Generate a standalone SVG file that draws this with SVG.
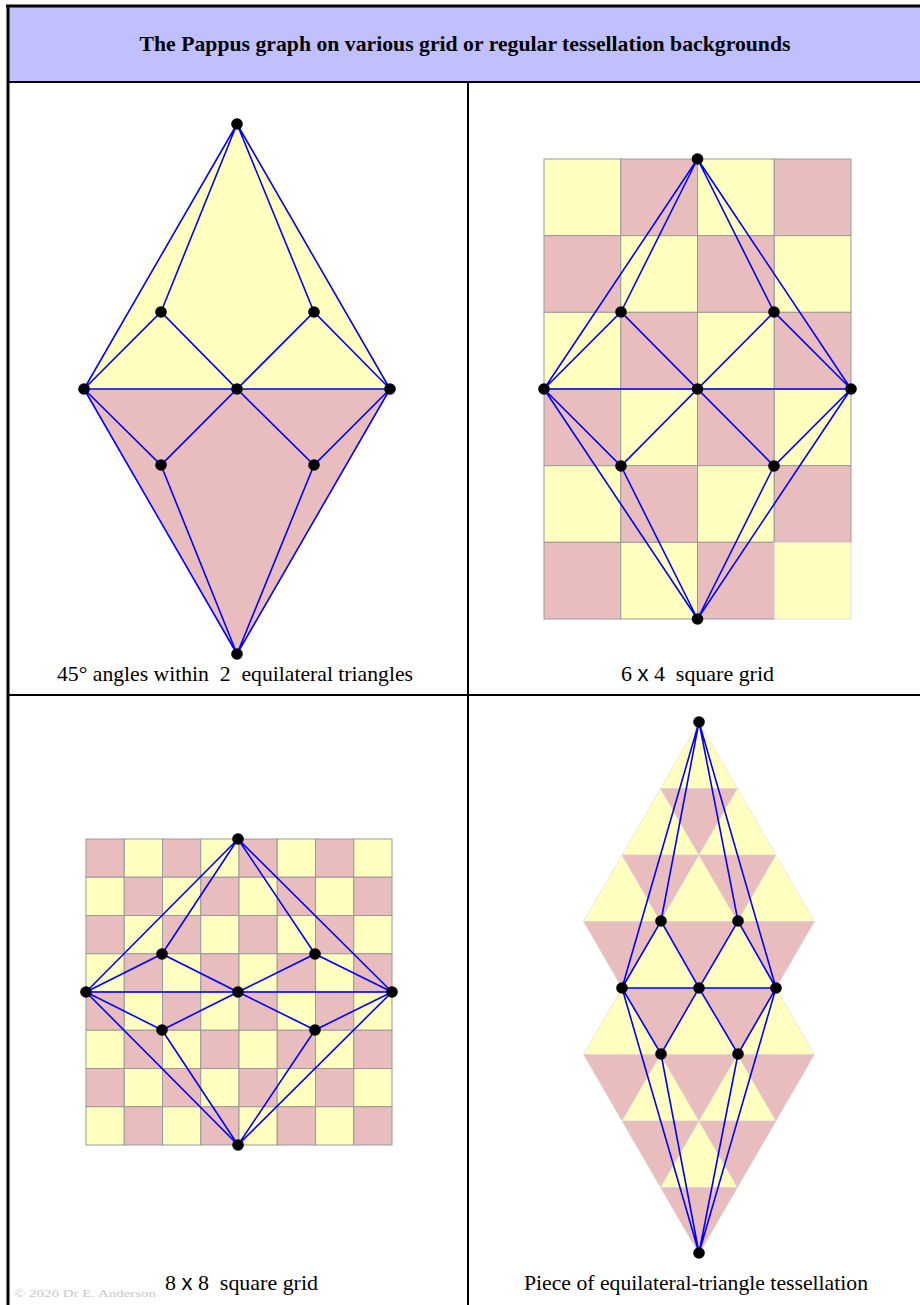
<svg xmlns="http://www.w3.org/2000/svg" width="920" height="1305" viewBox="0 0 920 1305">
<style>
.y{fill:#ffffc0}
.p{fill:#e9bdbd}
.cell{stroke:#999;stroke-width:1}
.tri{stroke:#d4d4d4;stroke-width:0.5}
.e{stroke:#0000ff;stroke-width:1.6;fill:none;stroke-linecap:round}
.n{fill:#000}
.lab{font-family:"Liberation Serif",serif;font-size:22px;fill:#000;text-anchor:middle;white-space:pre}
.sx{font-family:"Liberation Sans",sans-serif}
.frame{stroke:#000;fill:none}
</style>
<defs>
<circle id="dot" r="5.8"/>
</defs>
<rect x="0" y="0" width="920" height="1305" fill="#fff"/>
<g id="title">
<rect x="8" y="6" width="914" height="76" fill="#c0c0ff"/>
<text x="465" y="51" textLength="651" lengthAdjust="spacingAndGlyphs" style="font-family:'Liberation Serif',serif;font-size:22px;font-weight:bold;text-anchor:middle">The Pappus graph on various grid or regular tessellation backgrounds</text>
</g>
<g id="frame">
<line class="frame" x1="6" y1="6" x2="922" y2="6" stroke-width="3"/>
<line class="frame" x1="8" y1="5" x2="8" y2="1305" stroke-width="3"/>
<line class="frame" x1="8" y1="82" x2="922" y2="82" stroke-width="2"/>
<line class="frame" x1="468" y1="82" x2="468" y2="1305" stroke-width="2"/>
<line class="frame" x1="8" y1="695" x2="922" y2="695" stroke-width="2"/>
</g>

<!-- Panel 1 -->
<g id="panel1-bg">
<polygon class="y" points="237,124 84,389 390,389"/>
<polygon class="p" points="84,389 390,389 237,654"/>
</g>
<g id="panel1-edges">
<path class="e" d="M237,124L84,389M237,124L390,389M237,124L161,312M237,124L314,312M84,389L161,312L237,389L314,312L390,389M84,389L390,389M84,389L161,465L237,389L314,465L390,389M84,389L237,654M390,389L237,654M161,465L237,654M314,465L237,654"/>
</g>
<g id="panel1-nodes" class="n">
<use href="#dot" x="237" y="124"/><use href="#dot" x="161" y="312"/><use href="#dot" x="314" y="312"/>
<use href="#dot" x="84" y="389"/><use href="#dot" x="237" y="389"/><use href="#dot" x="390" y="389"/>
<use href="#dot" x="161" y="465"/><use href="#dot" x="314" y="465"/><use href="#dot" x="237" y="654"/>
</g>
<text class="lab" x="235" y="681" textLength="356" lengthAdjust="spacingAndGlyphs">45° angles within  2  equilateral triangles</text>

<!-- Panel 2 -->
<g id="panel2-bg" class="cell">
<rect class="y" x="544" y="159" width="76.75" height="76.67"/><rect class="p" x="620.75" y="159" width="76.75" height="76.67"/><rect class="y" x="697.5" y="159" width="76.75" height="76.67"/><rect class="p" x="774.25" y="159" width="76.75" height="76.67"/>
<rect class="p" x="544" y="235.67" width="76.75" height="76.67"/><rect class="y" x="620.75" y="235.67" width="76.75" height="76.67"/><rect class="p" x="697.5" y="235.67" width="76.75" height="76.67"/><rect class="y" x="774.25" y="235.67" width="76.75" height="76.67"/>
<rect class="y" x="544" y="312.33" width="76.75" height="76.67"/><rect class="p" x="620.75" y="312.33" width="76.75" height="76.67"/><rect class="y" x="697.5" y="312.33" width="76.75" height="76.67"/><rect class="p" x="774.25" y="312.33" width="76.75" height="76.67"/>
<rect class="p" x="544" y="389" width="76.75" height="76.67"/><rect class="y" x="620.75" y="389" width="76.75" height="76.67"/><rect class="p" x="697.5" y="389" width="76.75" height="76.67"/><rect class="y" x="774.25" y="389" width="76.75" height="76.67"/>
<rect class="y" x="544" y="465.67" width="76.75" height="76.67"/><rect class="p" x="620.75" y="465.67" width="76.75" height="76.67"/><rect class="y" x="697.5" y="465.67" width="76.75" height="76.67"/><rect class="p" x="774.25" y="465.67" width="76.75" height="76.67"/>
<rect class="p" x="544" y="542.33" width="76.75" height="76.67"/><rect class="y" x="620.75" y="542.33" width="76.75" height="76.67"/><rect class="p" x="697.5" y="542.33" width="76.75" height="76.67"/><rect class="y" x="774.25" y="542.33" width="76.75" height="76.67" style="stroke:#ddd"/>
</g>
<g id="panel2-edges">
<path class="e" d="M697.5,159L544,389M697.5,159L851,389M697.5,159L621,312M697.5,159L774,312M544,389L621,312L697.5,389L774,312L851,389M544,389L851,389M544,389L621,466L697.5,389L774,466L851,389M544,389L697.5,619M851,389L697.5,619M621,466L697.5,619M774,466L697.5,619"/>
</g>
<g id="panel2-nodes" class="n">
<use href="#dot" x="697.5" y="159"/><use href="#dot" x="621" y="312"/><use href="#dot" x="774" y="312"/>
<use href="#dot" x="544" y="389"/><use href="#dot" x="697.5" y="389"/><use href="#dot" x="851" y="389"/>
<use href="#dot" x="621" y="466"/><use href="#dot" x="774" y="466"/><use href="#dot" x="697.5" y="619"/>
</g>
<text class="lab" x="697.5" y="681" textLength="153" lengthAdjust="spacingAndGlyphs">6 <tspan class="sx">x</tspan> 4  square grid</text>

<!-- Panel 3 -->
<g id="panel3-bg" class="cell">
<rect class="p" x="86" y="839" width="38.25" height="38.25"/><rect class="y" x="124.25" y="839" width="38.25" height="38.25"/><rect class="p" x="162.5" y="839" width="38.25" height="38.25"/><rect class="y" x="200.75" y="839" width="38.25" height="38.25"/><rect class="p" x="239" y="839" width="38.25" height="38.25"/><rect class="y" x="277.25" y="839" width="38.25" height="38.25"/><rect class="p" x="315.5" y="839" width="38.25" height="38.25"/><rect class="y" x="353.75" y="839" width="38.25" height="38.25"/>
<rect class="y" x="86" y="877.25" width="38.25" height="38.25"/><rect class="p" x="124.25" y="877.25" width="38.25" height="38.25"/><rect class="y" x="162.5" y="877.25" width="38.25" height="38.25"/><rect class="p" x="200.75" y="877.25" width="38.25" height="38.25"/><rect class="y" x="239" y="877.25" width="38.25" height="38.25"/><rect class="p" x="277.25" y="877.25" width="38.25" height="38.25"/><rect class="y" x="315.5" y="877.25" width="38.25" height="38.25"/><rect class="p" x="353.75" y="877.25" width="38.25" height="38.25"/>
<rect class="p" x="86" y="915.5" width="38.25" height="38.25"/><rect class="y" x="124.25" y="915.5" width="38.25" height="38.25"/><rect class="p" x="162.5" y="915.5" width="38.25" height="38.25"/><rect class="y" x="200.75" y="915.5" width="38.25" height="38.25"/><rect class="p" x="239" y="915.5" width="38.25" height="38.25"/><rect class="y" x="277.25" y="915.5" width="38.25" height="38.25"/><rect class="p" x="315.5" y="915.5" width="38.25" height="38.25"/><rect class="y" x="353.75" y="915.5" width="38.25" height="38.25"/>
<rect class="y" x="86" y="953.75" width="38.25" height="38.25"/><rect class="p" x="124.25" y="953.75" width="38.25" height="38.25"/><rect class="y" x="162.5" y="953.75" width="38.25" height="38.25"/><rect class="p" x="200.75" y="953.75" width="38.25" height="38.25"/><rect class="y" x="239" y="953.75" width="38.25" height="38.25"/><rect class="p" x="277.25" y="953.75" width="38.25" height="38.25"/><rect class="y" x="315.5" y="953.75" width="38.25" height="38.25"/><rect class="p" x="353.75" y="953.75" width="38.25" height="38.25"/>
<rect class="p" x="86" y="992" width="38.25" height="38.25"/><rect class="y" x="124.25" y="992" width="38.25" height="38.25"/><rect class="p" x="162.5" y="992" width="38.25" height="38.25"/><rect class="y" x="200.75" y="992" width="38.25" height="38.25"/><rect class="p" x="239" y="992" width="38.25" height="38.25"/><rect class="y" x="277.25" y="992" width="38.25" height="38.25"/><rect class="p" x="315.5" y="992" width="38.25" height="38.25"/><rect class="y" x="353.75" y="992" width="38.25" height="38.25"/>
<rect class="y" x="86" y="1030.25" width="38.25" height="38.25"/><rect class="p" x="124.25" y="1030.25" width="38.25" height="38.25"/><rect class="y" x="162.5" y="1030.25" width="38.25" height="38.25"/><rect class="p" x="200.75" y="1030.25" width="38.25" height="38.25"/><rect class="y" x="239" y="1030.25" width="38.25" height="38.25"/><rect class="p" x="277.25" y="1030.25" width="38.25" height="38.25"/><rect class="y" x="315.5" y="1030.25" width="38.25" height="38.25"/><rect class="p" x="353.75" y="1030.25" width="38.25" height="38.25"/>
<rect class="p" x="86" y="1068.5" width="38.25" height="38.25"/><rect class="y" x="124.25" y="1068.5" width="38.25" height="38.25"/><rect class="p" x="162.5" y="1068.5" width="38.25" height="38.25"/><rect class="y" x="200.75" y="1068.5" width="38.25" height="38.25"/><rect class="p" x="239" y="1068.5" width="38.25" height="38.25"/><rect class="y" x="277.25" y="1068.5" width="38.25" height="38.25"/><rect class="p" x="315.5" y="1068.5" width="38.25" height="38.25"/><rect class="y" x="353.75" y="1068.5" width="38.25" height="38.25"/>
<rect class="y" x="86" y="1106.75" width="38.25" height="38.25"/><rect class="p" x="124.25" y="1106.75" width="38.25" height="38.25"/><rect class="y" x="162.5" y="1106.75" width="38.25" height="38.25"/><rect class="p" x="200.75" y="1106.75" width="38.25" height="38.25"/><rect class="y" x="239" y="1106.75" width="38.25" height="38.25"/><rect class="p" x="277.25" y="1106.75" width="38.25" height="38.25"/><rect class="y" x="315.5" y="1106.75" width="38.25" height="38.25"/><rect class="p" x="353.75" y="1106.75" width="38.25" height="38.25"/>
</g>
<g id="panel3-edges">
<path class="e" d="M238,839L86,992M238,839L392,992M238,839L162,954M238,839L315,954M86,992L162,954L238,992L315,954L392,992M86,992L392,992M86,992L162,1030L238,992L315,1030L392,992M86,992L238,1145M392,992L238,1145M162,1030L238,1145M315,1030L238,1145"/>
</g>
<g id="panel3-nodes" class="n">
<use href="#dot" x="238" y="839"/><use href="#dot" x="162" y="954"/><use href="#dot" x="315" y="954"/>
<use href="#dot" x="86" y="992"/><use href="#dot" x="238" y="992"/><use href="#dot" x="392" y="992"/>
<use href="#dot" x="162" y="1030"/><use href="#dot" x="315" y="1030"/><use href="#dot" x="238" y="1145"/>
</g>
<text class="lab" x="241.5" y="1290" textLength="153" lengthAdjust="spacingAndGlyphs">8 <tspan class="sx">x</tspan> 8  square grid</text>

<!-- Panel 4 -->
<g id="panel4-bg" class="tri">
<polygon class="y" points="699,722 660.5,788.5 737.5,788.5"/>
<polygon class="y" points="660.5,788.5 622,855 699,855"/>
<polygon class="p" points="660.5,788.5 737.5,788.5 699,855"/>
<polygon class="y" points="737.5,788.5 699,855 776,855"/>
<polygon class="y" points="622,855 583.5,921.5 660.5,921.5"/>
<polygon class="p" points="622,855 699,855 660.5,921.5"/>
<polygon class="y" points="699,855 660.5,921.5 737.5,921.5"/>
<polygon class="p" points="699,855 776,855 737.5,921.5"/>
<polygon class="y" points="776,855 737.5,921.5 814.5,921.5"/>
<polygon class="p" points="583.5,921.5 660.5,921.5 622,988"/>
<polygon class="y" points="660.5,921.5 622,988 699,988"/>
<polygon class="p" points="660.5,921.5 737.5,921.5 699,988"/>
<polygon class="y" points="737.5,921.5 699,988 776,988"/>
<polygon class="p" points="737.5,921.5 814.5,921.5 776,988"/>
<polygon class="y" points="622,988 583.5,1054.5 660.5,1054.5"/>
<polygon class="p" points="622,988 699,988 660.5,1054.5"/>
<polygon class="y" points="699,988 660.5,1054.5 737.5,1054.5"/>
<polygon class="p" points="699,988 776,988 737.5,1054.5"/>
<polygon class="y" points="776,988 737.5,1054.5 814.5,1054.5"/>
<polygon class="p" points="583.5,1054.5 660.5,1054.5 622,1121"/>
<polygon class="y" points="660.5,1054.5 622,1121 699,1121"/>
<polygon class="p" points="660.5,1054.5 737.5,1054.5 699,1121"/>
<polygon class="y" points="737.5,1054.5 699,1121 776,1121"/>
<polygon class="p" points="737.5,1054.5 814.5,1054.5 776,1121"/>
<polygon class="p" points="622,1121 699,1121 660.5,1187.5"/>
<polygon class="y" points="699,1121 660.5,1187.5 737.5,1187.5"/>
<polygon class="p" points="699,1121 776,1121 737.5,1187.5"/>
<polygon class="p" points="660.5,1187.5 737.5,1187.5 699,1254"/>
</g>
<g id="panel4-edges">
<path class="e" d="M699,722L622,988M699,722L776,988M699,722L661,921M699,722L738,921M622,988L661,921L699,988L738,921L776,988M622,988L776,988M622,988L661,1054L699,988L738,1054L776,988M622,988L699,1253M776,988L699,1253M661,1054L699,1253M738,1054L699,1253"/>
</g>
<g id="panel4-nodes" class="n">
<use href="#dot" x="699" y="722"/><use href="#dot" x="661" y="921"/><use href="#dot" x="738" y="921"/>
<use href="#dot" x="622" y="988"/><use href="#dot" x="699" y="988"/><use href="#dot" x="776" y="988"/>
<use href="#dot" x="661" y="1054"/><use href="#dot" x="738" y="1054"/><use href="#dot" x="699" y="1253"/>
</g>
<text class="lab" x="696" y="1290" textLength="344" lengthAdjust="spacingAndGlyphs">Piece of equilateral-triangle tessellation</text>

<text x="14" y="1297" textLength="142" lengthAdjust="spacingAndGlyphs" style="font-family:'Liberation Serif',serif;font-size:11px;fill:#c8c8c8">© 2026 Dr E. Anderson</text>
</svg>
